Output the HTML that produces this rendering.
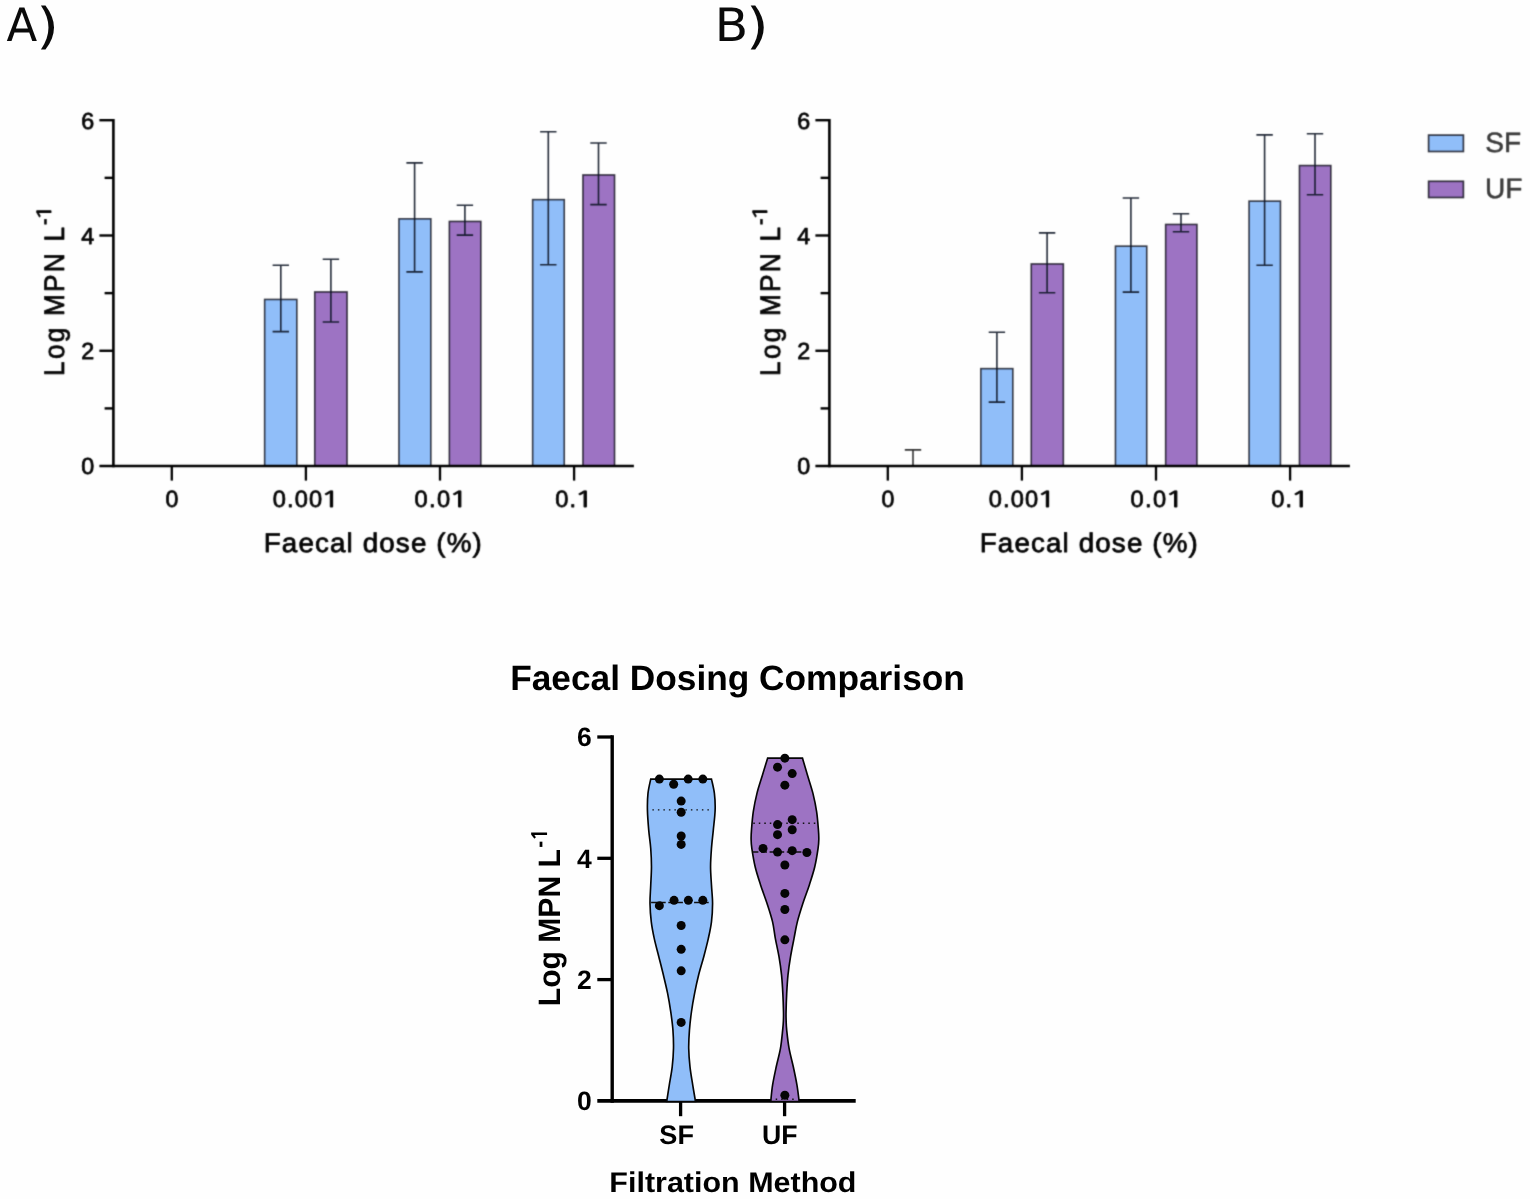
<!DOCTYPE html>
<html lang="en">
<head>
<meta charset="utf-8">
<title>Faecal Dosing Comparison</title>
<style>
html,body{margin:0;padding:0;background:#fefefe;}
body{width:1530px;height:1199px;overflow:hidden;}
svg{display:block;}
</style>
</head>
<body>
<svg width="1530" height="1199" viewBox="0 0 1530 1199" text-rendering="geometricPrecision">
<defs>
<filter id="soft" filterUnits="userSpaceOnUse" x="0" y="60" width="1530" height="520" color-interpolation-filters="sRGB">
<feConvolveMatrix order="3" kernelMatrix="1 4 1 4 16 4 1 4 1" divisor="36" edgeMode="duplicate" preserveAlpha="false"/>
</filter>
</defs>
<rect width="1530" height="1199" fill="#fefefe"/>
<text font-family='"DejaVu Sans", Verdana, sans-serif' fill="#0a0a0a"><tspan x="6.45" y="40.70" font-size="46.09" textLength="30.72" lengthAdjust="spacingAndGlyphs">A</tspan><tspan x="36.32" y="43.40" font-size="49.29" textLength="22.80" lengthAdjust="spacingAndGlyphs">)</tspan></text>
<text font-family='"DejaVu Sans", Verdana, sans-serif' fill="#0a0a0a"><tspan x="714.72" y="40.70" font-size="46.09" textLength="33.43" lengthAdjust="spacingAndGlyphs">B</tspan><tspan x="746.02" y="43.40" font-size="49.29" textLength="22.80" lengthAdjust="spacingAndGlyphs">)</tspan></text>
<g id="barcharts" filter="url(#soft)">
<rect x="0" y="60" width="1530" height="520" fill="#fefefe"/>
<g id="panelA">
<rect x="264.65" y="299.45" width="32.20" height="166.60" fill="#90bef9" stroke="#0a0a14" stroke-opacity="0.78" stroke-width="1.6"/>
<rect x="314.75" y="291.95" width="32.30" height="174.10" fill="#9d73c3" stroke="#0a0a14" stroke-opacity="0.78" stroke-width="1.6"/>
<rect x="398.95" y="218.85" width="31.90" height="247.20" fill="#90bef9" stroke="#0a0a14" stroke-opacity="0.78" stroke-width="1.6"/>
<rect x="449.35" y="221.45" width="31.50" height="244.60" fill="#9d73c3" stroke="#0a0a14" stroke-opacity="0.78" stroke-width="1.6"/>
<rect x="532.65" y="199.65" width="31.60" height="266.40" fill="#90bef9" stroke="#0a0a14" stroke-opacity="0.78" stroke-width="1.6"/>
<rect x="582.95" y="174.95" width="31.60" height="291.10" fill="#9d73c3" stroke="#0a0a14" stroke-opacity="0.78" stroke-width="1.6"/>
<path d="M280.80 265.20V331.60M272.60 265.20H289.00M272.60 331.60H289.00" stroke="#0c1424" stroke-width="1.6" fill="none" opacity="0.9"/>
<path d="M330.90 259.30V322.00M322.70 259.30H339.10M322.70 322.00H339.10" stroke="#0c1424" stroke-width="1.6" fill="none" opacity="0.9"/>
<path d="M414.60 162.90V271.90M406.40 162.90H422.80M406.40 271.90H422.80" stroke="#0c1424" stroke-width="1.6" fill="none" opacity="0.9"/>
<path d="M464.90 205.20V235.10M456.70 205.20H473.10M456.70 235.10H473.10" stroke="#0c1424" stroke-width="1.6" fill="none" opacity="0.9"/>
<path d="M548.30 131.70V264.80M540.10 131.70H556.50M540.10 264.80H556.50" stroke="#0c1424" stroke-width="1.6" fill="none" opacity="0.9"/>
<path d="M598.50 143.00V204.60M590.30 143.00H606.70M590.30 204.60H606.70" stroke="#0c1424" stroke-width="1.6" fill="none" opacity="0.9"/>
<path d="M113.40 119.0V467.25" stroke="#000" stroke-width="2.6" fill="none"/>
<path d="M99.40 466.05H633.90" stroke="#000" stroke-width="2.5" fill="none"/>
<path d="M104.60 408.41H113.40" stroke="#000" stroke-width="2.4" fill="none"/>
<path d="M99.40 350.77H113.40" stroke="#000" stroke-width="2.4" fill="none"/>
<path d="M104.60 293.13H113.40" stroke="#000" stroke-width="2.4" fill="none"/>
<path d="M99.40 235.49H113.40" stroke="#000" stroke-width="2.4" fill="none"/>
<path d="M104.60 177.85H113.40" stroke="#000" stroke-width="2.4" fill="none"/>
<path d="M99.40 120.21H113.40" stroke="#000" stroke-width="2.4" fill="none"/>
<path d="M171.80 466.05V480.6" stroke="#000" stroke-width="2.3" fill="none"/>
<path d="M305.90 466.05V480.6" stroke="#000" stroke-width="2.3" fill="none"/>
<path d="M440.00 466.05V480.6" stroke="#000" stroke-width="2.3" fill="none"/>
<path d="M574.10 466.05V480.6" stroke="#000" stroke-width="2.3" fill="none"/>
<text transform="translate(81.26 473.52) scale(1.0030 1)" font-family='"Liberation Sans", Arial, sans-serif' font-size="23.26" fill="#050505" stroke="#050505" stroke-width="0.75" stroke-linejoin="round">0</text>
<text transform="translate(81.26 358.76) scale(1.0030 1)" font-family='"Liberation Sans", Arial, sans-serif' font-size="23.26" fill="#050505" stroke="#050505" stroke-width="0.75" stroke-linejoin="round">2</text>
<text transform="translate(81.26 244.00) scale(1.0030 1)" font-family='"Liberation Sans", Arial, sans-serif' font-size="23.26" fill="#050505" stroke="#050505" stroke-width="0.75" stroke-linejoin="round">4</text>
<text transform="translate(81.26 129.24) scale(1.0030 1)" font-family='"Liberation Sans", Arial, sans-serif' font-size="23.26" fill="#050505" stroke="#050505" stroke-width="0.75" stroke-linejoin="round">6</text>
<text transform="translate(165.47 507.02) scale(0.9787 1)" font-family='"Liberation Sans", Arial, sans-serif' font-size="23.62" fill="#050505" stroke="#050505" stroke-width="0.75" stroke-linejoin="round">0</text>
<text transform="translate(272.65 507.02) scale(1.0000 1)" font-family='"Liberation Sans", Arial, sans-serif' font-size="23.62" fill="#050505" stroke="#050505" stroke-width="0.75" stroke-linejoin="round" letter-spacing="1.164">0.00<tspan font-family="NanumGothic, 'Liberation Sans', sans-serif" font-size="21.87" dx="-2.66" letter-spacing="0" textLength="19.88" lengthAdjust="spacingAndGlyphs">1</tspan></text>
<text transform="translate(414.45 507.02) scale(1.0000 1)" font-family='"Liberation Sans", Arial, sans-serif' font-size="23.62" fill="#050505" stroke="#050505" stroke-width="0.75" stroke-linejoin="round" letter-spacing="1.397">0.0<tspan font-family="NanumGothic, 'Liberation Sans', sans-serif" font-size="21.87" dx="-2.66" letter-spacing="0" textLength="19.88" lengthAdjust="spacingAndGlyphs">1</tspan></text>
<text transform="translate(555.25 507.02) scale(1.0000 1)" font-family='"Liberation Sans", Arial, sans-serif' font-size="23.62" fill="#050505" stroke="#050505" stroke-width="0.75" stroke-linejoin="round" letter-spacing="1.013">0.<tspan font-family="NanumGothic, 'Liberation Sans', sans-serif" font-size="21.87" dx="-2.66" letter-spacing="0" textLength="19.88" lengthAdjust="spacingAndGlyphs">1</tspan></text>
<text transform="translate(263.70 552.23) scale(1.0300 1)" font-family='"Liberation Sans", Arial, sans-serif' font-size="26.96" fill="#050505" stroke="#050505" stroke-width="0.75" stroke-linejoin="round" letter-spacing="1.106">Faecal dose (%)</text>
<text transform="translate(63.72 375.88) rotate(-90) scale(0.9300 1)" font-family='"Liberation Sans", Arial, sans-serif' font-size="28.27" fill="#050505" stroke="#050505" stroke-width="0.75" stroke-linejoin="round" letter-spacing="2.346">Log MPN L</text>
<text transform="translate(50.83 225.10) rotate(-90) scale(0.9435 1)" font-family='"Liberation Sans", Arial, sans-serif' font-size="20.86" fill="#050505" stroke="#050505" stroke-width="0.75" stroke-linejoin="round">-<tspan font-family="NanumGothic, 'Liberation Sans', sans-serif" font-size="19.31" dx="-2.35" letter-spacing="0" textLength="17.56" lengthAdjust="spacingAndGlyphs">1</tspan></text>
</g>
<g id="panelB">
<rect x="980.85" y="368.65" width="32.00" height="97.40" fill="#90bef9" stroke="#0a0a14" stroke-opacity="0.78" stroke-width="1.6"/>
<rect x="1031.25" y="263.95" width="32.10" height="202.10" fill="#9d73c3" stroke="#0a0a14" stroke-opacity="0.78" stroke-width="1.6"/>
<rect x="1115.45" y="246.15" width="31.30" height="219.90" fill="#90bef9" stroke="#0a0a14" stroke-opacity="0.78" stroke-width="1.6"/>
<rect x="1165.65" y="224.45" width="31.30" height="241.60" fill="#9d73c3" stroke="#0a0a14" stroke-opacity="0.78" stroke-width="1.6"/>
<rect x="1249.05" y="201.15" width="31.40" height="264.90" fill="#90bef9" stroke="#0a0a14" stroke-opacity="0.78" stroke-width="1.6"/>
<rect x="1299.45" y="165.55" width="31.40" height="300.50" fill="#9d73c3" stroke="#0a0a14" stroke-opacity="0.78" stroke-width="1.6"/>
<path d="M996.90 332.30V402.10M988.70 332.30H1005.10M988.70 402.10H1005.10" stroke="#0c1424" stroke-width="1.6" fill="none" opacity="0.9"/>
<path d="M1047.10 232.90V292.70M1038.90 232.90H1055.30M1038.90 292.70H1055.30" stroke="#0c1424" stroke-width="1.6" fill="none" opacity="0.9"/>
<path d="M1130.90 198.00V292.10M1122.70 198.00H1139.10M1122.70 292.10H1139.10" stroke="#0c1424" stroke-width="1.6" fill="none" opacity="0.9"/>
<path d="M1181.00 213.70V231.80M1172.80 213.70H1189.20M1172.80 231.80H1189.20" stroke="#0c1424" stroke-width="1.6" fill="none" opacity="0.9"/>
<path d="M1264.60 134.90V265.20M1256.40 134.90H1272.80M1256.40 265.20H1272.80" stroke="#0c1424" stroke-width="1.6" fill="none" opacity="0.9"/>
<path d="M1315.00 133.80V194.70M1306.80 133.80H1323.20M1306.80 194.70H1323.20" stroke="#0c1424" stroke-width="1.6" fill="none" opacity="0.9"/>
<path d="M913.00 449.90V466.05M904.80 449.90H921.20" stroke="#000" stroke-width="1.6" fill="none" opacity="0.8"/>
<path d="M829.40 119.0V467.25" stroke="#000" stroke-width="2.6" fill="none"/>
<path d="M815.40 466.05H1349.90" stroke="#000" stroke-width="2.5" fill="none"/>
<path d="M820.60 408.41H829.40" stroke="#000" stroke-width="2.4" fill="none"/>
<path d="M815.40 350.77H829.40" stroke="#000" stroke-width="2.4" fill="none"/>
<path d="M820.60 293.13H829.40" stroke="#000" stroke-width="2.4" fill="none"/>
<path d="M815.40 235.49H829.40" stroke="#000" stroke-width="2.4" fill="none"/>
<path d="M820.60 177.85H829.40" stroke="#000" stroke-width="2.4" fill="none"/>
<path d="M815.40 120.21H829.40" stroke="#000" stroke-width="2.4" fill="none"/>
<path d="M887.80 466.05V480.6" stroke="#000" stroke-width="2.3" fill="none"/>
<path d="M1021.90 466.05V480.6" stroke="#000" stroke-width="2.3" fill="none"/>
<path d="M1156.00 466.05V480.6" stroke="#000" stroke-width="2.3" fill="none"/>
<path d="M1290.10 466.05V480.6" stroke="#000" stroke-width="2.3" fill="none"/>
<text transform="translate(797.26 473.52) scale(1.0030 1)" font-family='"Liberation Sans", Arial, sans-serif' font-size="23.26" fill="#050505" stroke="#050505" stroke-width="0.75" stroke-linejoin="round">0</text>
<text transform="translate(797.26 358.76) scale(1.0030 1)" font-family='"Liberation Sans", Arial, sans-serif' font-size="23.26" fill="#050505" stroke="#050505" stroke-width="0.75" stroke-linejoin="round">2</text>
<text transform="translate(797.26 244.00) scale(1.0030 1)" font-family='"Liberation Sans", Arial, sans-serif' font-size="23.26" fill="#050505" stroke="#050505" stroke-width="0.75" stroke-linejoin="round">4</text>
<text transform="translate(797.26 129.24) scale(1.0030 1)" font-family='"Liberation Sans", Arial, sans-serif' font-size="23.26" fill="#050505" stroke="#050505" stroke-width="0.75" stroke-linejoin="round">6</text>
<text transform="translate(881.47 507.02) scale(0.9787 1)" font-family='"Liberation Sans", Arial, sans-serif' font-size="23.62" fill="#050505" stroke="#050505" stroke-width="0.75" stroke-linejoin="round">0</text>
<text transform="translate(988.65 507.02) scale(1.0000 1)" font-family='"Liberation Sans", Arial, sans-serif' font-size="23.62" fill="#050505" stroke="#050505" stroke-width="0.75" stroke-linejoin="round" letter-spacing="1.164">0.00<tspan font-family="NanumGothic, 'Liberation Sans', sans-serif" font-size="21.87" dx="-2.66" letter-spacing="0" textLength="19.88" lengthAdjust="spacingAndGlyphs">1</tspan></text>
<text transform="translate(1130.45 507.02) scale(1.0000 1)" font-family='"Liberation Sans", Arial, sans-serif' font-size="23.62" fill="#050505" stroke="#050505" stroke-width="0.75" stroke-linejoin="round" letter-spacing="1.397">0.0<tspan font-family="NanumGothic, 'Liberation Sans', sans-serif" font-size="21.87" dx="-2.66" letter-spacing="0" textLength="19.88" lengthAdjust="spacingAndGlyphs">1</tspan></text>
<text transform="translate(1271.25 507.02) scale(1.0000 1)" font-family='"Liberation Sans", Arial, sans-serif' font-size="23.62" fill="#050505" stroke="#050505" stroke-width="0.75" stroke-linejoin="round" letter-spacing="1.013">0.<tspan font-family="NanumGothic, 'Liberation Sans', sans-serif" font-size="21.87" dx="-2.66" letter-spacing="0" textLength="19.88" lengthAdjust="spacingAndGlyphs">1</tspan></text>
<text transform="translate(979.70 552.23) scale(1.0300 1)" font-family='"Liberation Sans", Arial, sans-serif' font-size="26.96" fill="#050505" stroke="#050505" stroke-width="0.75" stroke-linejoin="round" letter-spacing="1.106">Faecal dose (%)</text>
<text transform="translate(779.73 375.88) rotate(-90) scale(0.9300 1)" font-family='"Liberation Sans", Arial, sans-serif' font-size="28.27" fill="#050505" stroke="#050505" stroke-width="0.75" stroke-linejoin="round" letter-spacing="2.346">Log MPN L</text>
<text transform="translate(766.83 225.10) rotate(-90) scale(0.9435 1)" font-family='"Liberation Sans", Arial, sans-serif' font-size="20.86" fill="#050505" stroke="#050505" stroke-width="0.75" stroke-linejoin="round">-<tspan font-family="NanumGothic, 'Liberation Sans', sans-serif" font-size="19.31" dx="-2.35" letter-spacing="0" textLength="17.56" lengthAdjust="spacingAndGlyphs">1</tspan></text>
</g>
<g id="legend">
<rect x="1428.6" y="135.1" width="34.8" height="16.4" fill="#90bef9" stroke="#0a0a14" stroke-opacity="0.78" stroke-width="1.7"/>
<rect x="1428.6" y="181.3" width="34.8" height="16.2" fill="#9d73c3" stroke="#0a0a14" stroke-opacity="0.78" stroke-width="1.7"/>
<text transform="translate(1485.37 152.45) scale(1.0067 1)" font-family='"Liberation Sans", Arial, sans-serif' font-size="27.91" fill="#3c3c3c" stroke="#3c3c3c" stroke-width="0.5" stroke-linejoin="round">SF</text>
<text transform="translate(1484.98 198.45) scale(1.0027 1)" font-family='"Liberation Sans", Arial, sans-serif' font-size="28.05" fill="#3c3c3c" stroke="#3c3c3c" stroke-width="0.5" stroke-linejoin="round">UF</text>
</g>
</g>
<g id="panelC">
<path d="M612.2 735.2V1102.70" stroke="#000" stroke-width="3.4" fill="none"/>
<path d="M597.3 1100.90H855.7" stroke="#000" stroke-width="3.6" fill="none"/>
<path d="M597.3 979.60H612.2" stroke="#000" stroke-width="3.3" fill="none"/>
<path d="M597.3 858.30H612.2" stroke="#000" stroke-width="3.3" fill="none"/>
<path d="M597.3 737.00H612.2" stroke="#000" stroke-width="3.3" fill="none"/>
<path d="M680.60 1100.90V1116.2" stroke="#000" stroke-width="3.3" fill="none"/>
<path d="M784.60 1100.90V1116.2" stroke="#000" stroke-width="3.3" fill="none"/>
<path d="M650.73 779.08C650.28 781.47 648.53 788.26 647.98 793.39C647.43 798.53 647.31 803.79 647.43 809.91C647.55 816.02 648.17 823.67 648.72 830.09C649.27 836.51 650.28 842.32 650.73 848.44C651.19 854.56 651.47 860.67 651.47 866.79C651.47 872.91 650.98 879.02 650.73 885.14C650.49 891.25 649.91 897.37 650.00 903.49C650.09 909.60 650.58 916.02 651.28 921.83C651.99 927.65 652.97 932.54 654.22 938.35C655.47 944.16 657.28 950.58 658.81 956.70C660.34 962.81 661.93 968.93 663.39 975.05C664.86 981.16 666.39 987.28 667.61 993.39C668.84 999.51 669.85 1005.63 670.73 1011.74C671.62 1017.86 672.48 1023.98 672.94 1030.09C673.39 1036.21 673.61 1042.32 673.49 1048.44C673.36 1054.56 672.91 1060.67 672.20 1066.79C671.50 1072.91 670.18 1079.35 669.27 1085.14C668.35 1090.92 667.13 1098.77 666.70 1101.50L695.50 1101.50C695.05 1098.77 693.67 1090.92 692.75 1085.14C691.83 1079.35 690.67 1072.91 690.00 1066.79C689.33 1060.67 688.81 1054.56 688.72 1048.44C688.62 1042.32 688.99 1036.21 689.45 1030.09C689.91 1023.98 690.61 1017.86 691.47 1011.74C692.32 1005.63 693.39 999.51 694.59 993.39C695.78 987.28 697.09 981.16 698.62 975.05C700.15 968.93 702.14 962.81 703.76 956.70C705.38 950.58 707.06 944.16 708.35 938.35C709.63 932.54 710.76 927.65 711.47 921.83C712.17 916.02 712.57 909.60 712.57 903.49C712.57 897.37 711.80 891.25 711.47 885.14C711.13 879.02 710.55 872.91 710.55 866.79C710.55 860.67 711.01 854.56 711.47 848.44C711.93 842.32 712.69 836.51 713.30 830.09C713.91 823.67 714.95 816.02 715.14 809.91C715.32 803.79 715.02 798.53 714.40 793.39C713.79 788.26 711.96 781.47 711.47 779.08Z" fill="#90bef9" stroke="#050505" stroke-width="1.65" stroke-linejoin="miter"/>
<path d="M767.61 758.17C766.76 760.98 764.25 769.17 762.48 775.05C760.70 780.92 758.50 787.28 756.97 793.39C755.44 799.51 754.22 805.63 753.30 811.74C752.39 817.86 751.83 825.50 751.47 830.09C751.10 834.68 751.04 836.21 751.10 839.27C751.16 842.32 751.16 843.85 751.83 848.44C752.51 853.03 753.67 860.67 755.14 866.79C756.61 872.91 758.65 879.02 760.64 885.14C762.63 891.25 765.08 897.37 767.06 903.49C769.05 909.60 771.19 916.02 772.57 921.83C773.94 927.65 774.25 932.54 775.32 938.35C776.39 944.16 777.95 950.58 778.99 956.70C780.03 962.81 780.92 968.93 781.56 975.05C782.20 981.16 782.52 987.28 782.84 993.39C783.17 999.51 783.39 1007.16 783.49 1011.74C783.58 1016.33 783.53 1017.86 783.39 1020.92C783.26 1023.98 783.15 1025.50 782.66 1030.09C782.17 1034.68 781.53 1042.32 780.46 1048.44C779.39 1054.56 777.55 1060.67 776.24 1066.79C774.92 1072.91 773.49 1079.35 772.57 1085.14C771.65 1090.92 771.04 1098.77 770.73 1101.50L799.17 1101.50C798.81 1098.77 797.95 1090.92 796.97 1085.14C795.99 1079.35 794.62 1072.91 793.30 1066.79C791.99 1060.67 790.18 1054.56 789.08 1048.44C787.98 1042.32 787.19 1034.68 786.70 1030.09C786.21 1025.50 786.25 1023.98 786.15 1020.92C786.04 1017.86 785.96 1016.33 786.06 1011.74C786.15 1007.16 786.38 999.51 786.70 993.39C787.02 987.28 787.34 981.16 787.98 975.05C788.62 968.93 789.54 962.81 790.55 956.70C791.56 950.58 792.91 944.16 794.04 938.35C795.17 932.54 795.87 927.65 797.34 921.83C798.81 916.02 800.86 909.60 802.84 903.49C804.83 897.37 807.28 891.25 809.27 885.14C811.25 879.02 813.30 872.91 814.77 866.79C816.24 860.67 817.40 853.03 818.07 848.44C818.75 843.85 818.75 842.32 818.81 839.27C818.87 836.21 818.81 834.68 818.44 830.09C818.07 825.50 817.52 817.86 816.61 811.74C815.69 805.63 814.46 799.51 812.94 793.39C811.41 787.28 809.17 780.92 807.43 775.05C805.69 769.17 803.30 760.98 802.48 758.17Z" fill="#9d73c3" stroke="#050505" stroke-width="1.65" stroke-linejoin="miter"/>
<path d="M652.39 809.91H710.18" stroke="#111" stroke-width="1.4" stroke-dasharray="1.5 4.0" fill="none"/>
<path d="M651.10 902.57H710.18" stroke="#111" stroke-width="1.5" stroke-dasharray="6 2.6" fill="none"/>
<path d="M753.30 823.30H815.69" stroke="#111" stroke-width="1.4" stroke-dasharray="1.5 4.0" fill="none"/>
<path d="M752.39 852.11H812.39" stroke="#111" stroke-width="1.5" stroke-dasharray="6 2.6" fill="none"/>
<path d="M775.69 1099.30H794.04" stroke="#111" stroke-width="1.4" stroke-dasharray="1.5 4.0" fill="none"/>
<circle cx="659.36" cy="779.08" r="4.5" fill="#050505"/>
<circle cx="688.17" cy="779.08" r="4.5" fill="#050505"/>
<circle cx="702.84" cy="779.08" r="4.5" fill="#050505"/>
<circle cx="673.67" cy="784.22" r="4.5" fill="#050505"/>
<circle cx="681.19" cy="801.10" r="4.5" fill="#050505"/>
<circle cx="681.19" cy="812.29" r="4.5" fill="#050505"/>
<circle cx="681.19" cy="835.96" r="4.5" fill="#050505"/>
<circle cx="681.19" cy="844.40" r="4.5" fill="#050505"/>
<circle cx="674.04" cy="900.37" r="4.5" fill="#050505"/>
<circle cx="688.35" cy="900.37" r="4.5" fill="#050505"/>
<circle cx="702.84" cy="900.37" r="4.5" fill="#050505"/>
<circle cx="659.36" cy="905.69" r="4.5" fill="#050505"/>
<circle cx="681.19" cy="925.50" r="4.5" fill="#050505"/>
<circle cx="681.19" cy="949.36" r="4.5" fill="#050505"/>
<circle cx="681.19" cy="970.83" r="4.5" fill="#050505"/>
<circle cx="681.19" cy="1022.39" r="4.5" fill="#050505"/>
<circle cx="784.86" cy="758.17" r="4.5" fill="#050505"/>
<circle cx="777.52" cy="767.16" r="4.5" fill="#050505"/>
<circle cx="792.20" cy="773.58" r="4.5" fill="#050505"/>
<circle cx="784.86" cy="785.14" r="4.5" fill="#050505"/>
<circle cx="792.20" cy="819.63" r="4.5" fill="#050505"/>
<circle cx="777.52" cy="824.59" r="4.5" fill="#050505"/>
<circle cx="792.20" cy="829.72" r="4.5" fill="#050505"/>
<circle cx="777.52" cy="834.68" r="4.5" fill="#050505"/>
<circle cx="763.03" cy="848.44" r="4.5" fill="#050505"/>
<circle cx="792.20" cy="850.64" r="4.5" fill="#050505"/>
<circle cx="777.52" cy="852.11" r="4.5" fill="#050505"/>
<circle cx="806.88" cy="852.48" r="4.5" fill="#050505"/>
<circle cx="784.86" cy="864.95" r="4.5" fill="#050505"/>
<circle cx="784.86" cy="893.39" r="4.5" fill="#050505"/>
<circle cx="784.86" cy="909.54" r="4.5" fill="#050505"/>
<circle cx="784.86" cy="939.82" r="4.5" fill="#050505"/>
<circle cx="784.86" cy="1095.23" r="4.5" fill="#050505"/>
<text transform="translate(577.10 1110.30) scale(0.9966 1)" font-family='"Liberation Sans", Arial, sans-serif' font-size="26.60" font-weight="bold" fill="#000">0</text>
<text transform="translate(577.10 989.00) scale(0.9966 1)" font-family='"Liberation Sans", Arial, sans-serif' font-size="26.60" font-weight="bold" fill="#000">2</text>
<text transform="translate(577.10 867.70) scale(0.9966 1)" font-family='"Liberation Sans", Arial, sans-serif' font-size="26.60" font-weight="bold" fill="#000">4</text>
<text transform="translate(577.10 746.40) scale(0.9966 1)" font-family='"Liberation Sans", Arial, sans-serif' font-size="26.60" font-weight="bold" fill="#000">6</text>
<text transform="translate(659.32 1144.40) scale(1.0146 1)" font-family='"Liberation Sans", Arial, sans-serif' font-size="26.74" font-weight="bold" fill="#000">SF</text>
<text transform="translate(761.90 1144.40) scale(0.9980 1)" font-family='"Liberation Sans", Arial, sans-serif' font-size="26.74" font-weight="bold" fill="#000">UF</text>
<text transform="translate(609.36 1191.50) scale(1.0697 1)" font-family='"Liberation Sans", Arial, sans-serif' font-size="28.49" font-weight="bold" fill="#000">Filtration Method</text>
<text transform="translate(510.14 690.20) scale(1.0028 1)" font-family='"Liberation Sans", Arial, sans-serif' font-size="35.18" font-weight="bold" fill="#000">Faecal Dosing Comparison</text>
<text transform="translate(560.00 1006.21) rotate(-90) scale(0.9721 1)" font-family='"Liberation Sans", Arial, sans-serif' font-size="30.96" font-weight="bold" fill="#000">Log MPN L</text>
<text transform="translate(546.70 847.81) rotate(-90) scale(0.8990 1)" font-family='"Liberation Sans", Arial, sans-serif' font-size="23.11" font-weight="bold" fill="#000">-<tspan font-family="NanumGothic, 'Liberation Sans', sans-serif" font-size="21.00" dx="-1.01" letter-spacing="0" textLength="16.55" lengthAdjust="spacingAndGlyphs">1</tspan></text>
</g>
</svg>
</body>
</html>
